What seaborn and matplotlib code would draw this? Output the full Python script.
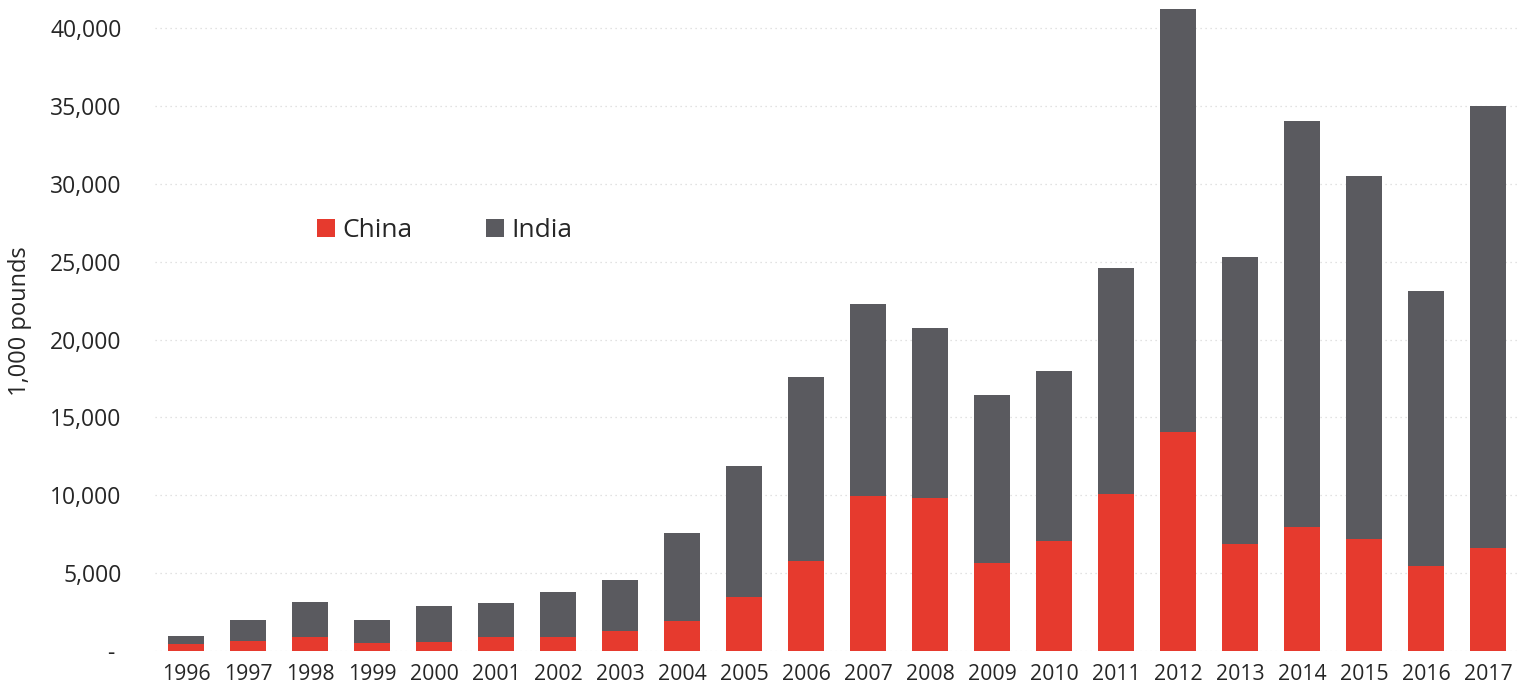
import matplotlib
matplotlib.use("Agg")
import matplotlib.pyplot as plt
import seaborn as sns
import numpy as np
from matplotlib.patches import Patch
from matplotlib.ticker import FuncFormatter

years = ["1996", "1997", "1998", "1999", "2000", "2001", "2002", "2003", "2004", "2005", "2006",
         "2007", "2008", "2009", "2010", "2011", "2012", "2013", "2014", "2015", "2016", "2017"]
china = [450, 640, 900, 510, 580, 900, 900, 1280, 1930, 3470, 5780,
         9950, 9820, 5650, 7060, 10080, 14060, 6870, 7960, 7190, 5460, 6610]
india = [510, 1350, 2250, 1480, 2310, 2180, 2890, 3280, 5640, 8400, 11810,
         12320, 10910, 10780, 10910, 14500, 27140, 18420, 26060, 23300, 17650, 28370]
series_names = ["China", "India"]
y_ticks = [0, 5000, 10000, 15000, 20000, 25000, 30000, 35000, 40000]

RED = "#E63A2E"
GRAY = "#5A5A5F"
TEXT = "#262626"

sns.set_style("white")
plt.rcParams["font.family"] = ["Open Sans", "DejaVu Sans"]

fig = plt.figure(figsize=(15.19, 6.94), dpi=100)
ax = fig.add_axes([155 / 1519, 1 - 651 / 694, 1 - 155 / 1519, 651 / 694])

totals = np.array(china) + np.array(india)
sns.barplot(x=years, y=totals, color=GRAY, saturation=1, width=0.57, linewidth=0, ax=ax, zorder=2)
sns.barplot(x=years, y=china, color=RED, saturation=1, width=0.57, linewidth=0, ax=ax, zorder=3)

ax.set_ylim(0, 41800)
ax.set_xlim(-0.5, 21.5)
ax.set_yticks(y_ticks)
ax.yaxis.set_major_formatter(FuncFormatter(lambda v, p: "- " if v == 0 else f"{int(v):,}"))
ax.grid(axis="y", color="#d9d9d9", linestyle=(0, (1, 3)), linewidth=0.9, zorder=0)
ax.grid(axis="x", visible=False)
for s in ax.spines.values():
    s.set_visible(False)
ax.tick_params(axis="y", length=0, pad=24, labelsize=16.5, labelcolor=TEXT)
ax.tick_params(axis="x", length=0, pad=9, labelsize=15.3, labelcolor=TEXT)
ax.set_xlabel("")
ax.set_ylabel("")

fig.text(20 / 1519, 1 - 321 / 694, "1,000 pounds", rotation=90, ha="center", va="center",
         fontsize=17, color=TEXT)

handles = [Patch(facecolor=RED, edgecolor="none"), Patch(facecolor=GRAY, edgecolor="none")]
ax.legend(handles, series_names, ncol=2, frameon=False, loc="center left",
          bbox_to_anchor=(317 / 1519, 1 - 231 / 694), bbox_transform=fig.transFigure,
          fontsize=19, handlelength=0.68, handleheight=0.68, handletextpad=0.3,
          columnspacing=2.75, labelcolor=TEXT, borderpad=0, borderaxespad=0)

fig.savefig("out.png", dpi=100)
